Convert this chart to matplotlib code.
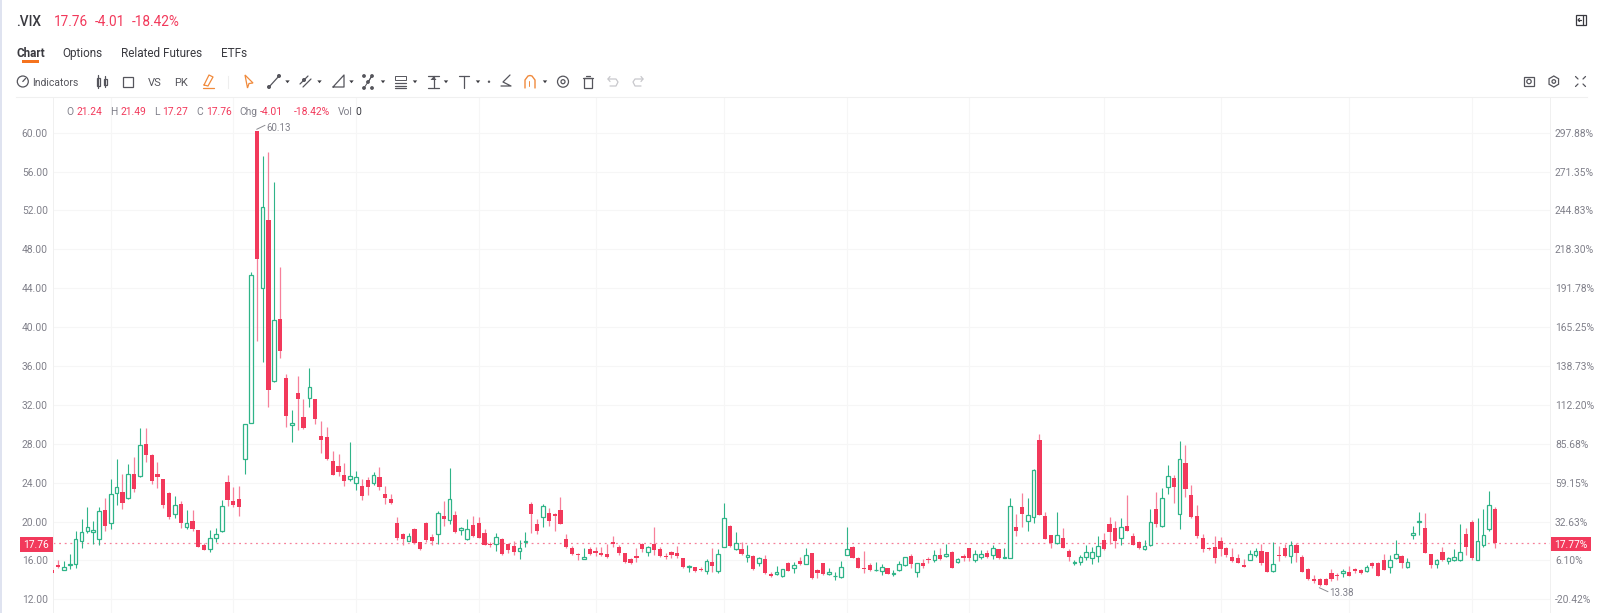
import matplotlib
matplotlib.use('Agg')
import matplotlib.pyplot as plt
from matplotlib.patches import Rectangle, Circle, Polygon
import numpy as np

plt.rcParams['font.family'] = ['Roboto', 'DejaVu Sans']

# values, one row of 10 candles per line
opens = [
    15.02, 15.57, 15.02, 15.53, 15.60, 18.03, 19.06, 18.90, 18.17, 21.22,
    19.82, 22.90, 23.00, 22.46, 24.86, 24.68, 27.94, 26.88, 24.92, 24.34,
    22.90, 20.78, 21.84, 19.47, 20.02, 19.13, 17.55, 17.20, 18.34, 19.03,
    24.10, 22.08, 22.28, 26.40, 30.10, 60.13, 44.04, 51.03, 34.42, 40.86,
    34.73, 29.96, 33.25, 30.79, 32.74, 32.64, 28.76, 28.70, 26.23, 25.75,
    24.75, 24.34, 23.93, 23.66, 24.24, 23.93, 24.55, 22.83, 22.35, 19.82,
    18.68, 18.03, 19.20, 17.90, 19.85, 18.45, 18.75, 20.60, 20.12, 20.64,
    19.16, 18.20, 19.60, 19.82, 18.82, 17.72, 17.66, 18.17, 17.72, 17.49,
    17.00, 17.86, 21.77, 19.78, 20.50, 20.90, 20.78, 21.15, 18.17, 17.30,
    16.66, 16.18, 17.18, 16.97, 16.77, 16.63, 17.86, 17.38, 16.73, 16.18,
    16.42, 17.72, 16.87, 17.66, 17.14, 16.42, 16.87, 16.73, 16.22, 15.30,
    15.29, 15.15, 14.95, 15.84, 14.95, 17.35, 19.54, 17.14, 17.20, 16.35,
    16.46, 15.77, 16.11, 14.64, 14.60, 14.37, 15.70, 15.20,
    15.94, 15.63, 16.80, 15.02, 15.70, 14.64, 14.37, 14.26, 16.60, 17.38,
    16.22, 15.26, 15.57, 14.98, 14.95, 15.19, 14.60, 15.05, 15.57, 16.42,
    14.85, 15.74, 16.18, 16.00, 16.56, 16.46, 16.90, 15.80, 16.49, 17.25,
    16.08, 16.32, 16.73, 16.53, 17.18, 16.29, 16.29, 19.44, 21.46, 20.02,
    20.50, 28.39, 20.54, 18.62, 17.79, 18.34, 17.00, 15.70, 15.87, 16.32,
    16.22, 16.42, 18.07, 19.71, 19.37, 18.34, 19.50, 18.55, 17.90, 17.18,
    17.55, 21.32, 19.54, 23.52, 24.48, 20.74, 25.99, 22.70, 20.54,
    18.27, 17.28, 17.42, 18.03, 17.28, 16.39, 16.22, 15.53, 16.08, 16.56,
    16.94, 16.83, 14.91, 16.56, 17.28, 16.42, 17.62, 16.35, 15.15, 14.06,
    14.06, 14.09, 14.67, 14.47, 14.71, 14.81, 15.12, 14.98, 14.91, 15.70,
    15.74, 16.05, 15.29, 16.29, 16.49, 15.36, 18.62, 19.95, 19.30, 16.66,
    15.63, 16.90, 15.90, 16.01, 16.01, 18.68, 19.95, 16.08, 17.62, 19.20,
    21.24,
]
closes = [
    14.74, 15.29, 15.29, 15.67, 18.17, 18.96, 19.40, 19.10, 21.12, 19.58,
    22.80, 23.52, 21.94, 24.90, 23.35, 27.87, 26.88, 24.20, 24.60, 21.70,
    20.50, 21.67, 19.82, 19.82, 19.20, 17.42, 17.07, 18.30, 18.70, 21.63,
    22.20, 21.67, 21.46, 30.00, 45.34, 46.99, 52.33, 33.56, 40.75, 37.57,
    30.89, 30.14, 32.60, 29.60, 33.80, 30.55, 28.42, 26.40, 24.82, 25.13,
    24.14, 24.68, 24.58, 22.63, 23.60, 24.75, 23.52, 22.46, 21.87, 18.34,
    18.17, 18.55, 17.76, 17.18, 18.10, 18.03, 20.88, 20.23, 22.28, 18.90,
    19.30, 19.20, 18.50, 18.30, 17.62, 17.55, 18.45, 16.66, 17.07, 16.90,
    17.25, 18.00, 20.78, 19.06, 21.60, 20.10, 20.57, 19.78, 17.42, 16.66,
    16.52, 16.32, 16.63, 16.80, 16.60, 16.32, 17.69, 16.73, 15.84, 15.70,
    16.28, 17.14, 17.35, 17.10, 16.46, 16.32, 16.60, 16.46, 15.33, 15.40,
    14.88, 15.02, 15.94, 15.43, 16.70, 20.36, 17.49, 17.83, 16.66, 16.52,
    15.08, 16.25, 14.67, 14.40, 14.80, 15.08, 14.95, 15.57,
    15.60, 16.60, 14.16, 14.74, 14.60, 14.80, 14.43, 15.33, 17.14, 16.29,
    15.26, 15.15, 15.02, 15.05, 15.33, 14.64, 14.74, 15.67, 16.32, 15.67,
    15.70, 15.39, 16.08, 16.60, 16.15, 16.70, 15.26, 16.11, 16.29, 16.29,
    16.63, 16.66, 16.32, 17.25, 16.22, 16.39, 21.63, 19.00, 20.78, 20.64,
    25.30, 20.71, 18.20, 17.76, 18.58, 17.28, 16.35, 15.80, 16.39, 16.90,
    16.90, 17.45, 17.14, 18.92, 18.00, 19.47, 19.06, 17.59, 17.25, 17.49,
    19.99, 19.71, 22.39, 24.68, 23.59, 26.40, 23.38, 20.47, 18.51,
    17.14, 17.14, 16.29, 17.21, 16.53, 15.98, 15.74, 15.36, 16.63, 16.94,
    15.70, 14.81, 15.67, 16.42, 16.46, 17.59, 16.80, 14.85, 14.06, 13.92,
    13.44, 13.51, 14.09, 14.37, 14.95, 14.43, 14.88, 14.67, 15.33, 15.43,
    14.43, 15.05, 16.01, 16.70, 15.77, 15.80, 18.79, 20.09, 16.80, 15.53,
    16.05, 16.05, 16.25, 16.32, 16.83, 17.42, 16.25, 17.97, 18.62, 21.74,
    17.76,
]
highs = [
    15.36, 16.05, 15.98, 16.66, 19.00, 20.26, 21.50, 20.06, 21.50, 22.40,
    24.34, 26.40, 24.90, 25.90, 26.60, 29.60, 29.60, 26.90, 26.16, 24.34,
    23.00, 22.63, 22.15, 21.20, 21.15, 19.13, 17.83, 19.13, 19.34, 22.20,
    24.82, 23.55, 23.70, 30.00, 45.65, 60.13, 57.60, 58.00, 54.97, 46.20,
    35.17, 31.47, 35.00, 32.57, 35.76, 32.64, 30.34, 29.70, 27.26, 26.95,
    26.00, 28.18, 25.20, 24.34, 24.60, 25.13, 25.64, 23.66, 22.83, 20.43,
    18.86, 18.80, 19.37, 17.90, 19.92, 18.72, 21.08, 22.10, 25.54, 21.05,
    19.40, 20.23, 20.57, 20.47, 19.23, 17.93, 18.80, 18.27, 17.83, 18.00,
    18.10, 18.90, 22.00, 20.26, 21.80, 21.36, 20.90, 22.50, 18.75, 17.49,
    16.80, 17.30, 17.35, 17.42, 17.35, 17.66, 18.50, 17.55, 16.77, 16.25,
    17.25, 17.83, 17.50, 19.47, 17.35, 16.73, 16.97, 17.49, 16.30, 15.53,
    15.33, 15.36, 16.10, 17.25, 17.14, 21.87, 19.60, 18.92, 17.86, 17.62,
    16.56, 16.40, 16.56, 14.78, 15.40, 15.15, 15.87, 15.84,
    16.35, 17.25, 16.80, 15.10, 15.74, 15.19, 14.78, 15.98, 19.40, 17.52,
    16.32, 16.94, 15.70, 15.84, 15.67, 15.26, 14.98, 15.90, 16.39, 16.66,
    15.77, 16.11, 16.39, 17.04, 17.25, 17.73, 17.00, 16.29, 16.70, 17.31,
    17.04, 17.04, 17.07, 17.55, 17.18, 17.31, 22.46, 20.78, 22.90, 22.46,
    25.40, 29.00, 21.00, 18.62, 21.02, 19.37, 17.14, 16.05, 16.56, 17.59,
    17.42, 18.51, 18.82, 20.47, 20.06, 20.33, 22.70, 18.86, 18.00, 18.07,
    21.32, 23.04, 23.42, 25.85, 24.75, 28.28, 27.87, 23.72, 21.74,
    18.72, 17.38, 18.51, 18.38, 17.38, 17.25, 16.63, 16.15, 17.07, 17.25,
    17.69, 16.83, 17.86, 17.49, 17.69, 18.00, 17.76, 16.56, 15.22, 14.50,
    14.16, 14.16, 15.09, 14.67, 15.15, 15.43, 15.22, 15.09, 15.50, 15.87,
    15.80, 16.66, 16.53, 18.10, 16.56, 16.29, 19.58, 21.02, 20.84, 16.66,
    16.18, 17.38, 16.39, 17.18, 19.75, 19.30, 20.16, 20.40, 21.26, 23.14,
    21.49,
]
lows = [
    14.70, 15.26, 15.00, 15.09, 15.22, 17.25, 18.80, 17.70, 17.60, 19.00,
    19.20, 21.67, 21.30, 22.30, 23.04, 24.60, 26.10, 23.83, 23.40, 21.43,
    20.23, 20.33, 19.37, 19.23, 19.06, 17.38, 17.04, 16.90, 17.93, 18.90,
    21.63, 21.53, 20.57, 24.90, 30.10, 38.53, 36.44, 31.80, 34.40, 36.80,
    29.70, 28.20, 29.40, 29.55, 31.75, 30.03, 27.05, 26.33, 24.79, 24.68,
    23.66, 24.20, 23.24, 22.20, 22.73, 23.76, 23.24, 21.80, 21.80, 18.10,
    17.59, 18.00, 17.70, 17.10, 17.93, 17.59, 17.72, 19.54, 19.75, 18.86,
    18.60, 18.10, 18.45, 18.27, 17.59, 17.35, 17.00, 16.60, 16.73, 16.60,
    16.18, 17.35, 18.80, 18.72, 19.47, 19.54, 19.06, 19.75, 17.30, 16.56,
    16.05, 16.11, 16.52, 16.42, 16.50, 16.25, 17.42, 16.52, 15.74, 15.63,
    15.87, 16.87, 16.50, 16.60, 16.40, 16.18, 16.20, 16.30, 15.22, 14.85,
    14.85, 14.90, 14.60, 14.85, 14.67, 17.35, 17.40, 17.04, 16.56, 15.87,
    15.05, 15.46, 14.64, 14.26, 14.54, 14.30, 14.90, 14.74,
    15.56, 15.60, 14.10, 14.16, 14.54, 14.54, 14.02, 14.23, 16.56, 16.25,
    15.19, 14.67, 14.95, 14.95, 14.54, 14.60, 14.37, 14.95, 15.40, 15.26,
    14.26, 15.22, 15.77, 15.87, 16.08, 16.35, 15.22, 15.70, 15.94, 15.94,
    15.87, 16.18, 16.29, 16.15, 16.18, 16.22, 16.22, 18.51, 19.40, 19.06,
    19.82, 20.67, 18.17, 17.31, 17.72, 17.25, 15.98, 15.53, 15.57, 16.05,
    15.63, 15.87, 17.07, 17.69, 17.25, 17.59, 19.03, 17.55, 17.21, 17.07,
    17.49, 19.47, 19.47, 22.83, 21.87, 19.23, 22.49, 20.37, 18.34,
    16.90, 17.07, 15.77, 16.49, 16.39, 15.87, 15.70, 15.29, 16.05, 16.39,
    15.53, 14.78, 14.85, 15.94, 16.39, 15.77, 15.87, 14.81, 13.99, 13.65,
    13.38, 13.44, 13.92, 13.99, 14.33, 14.40, 14.67, 14.57, 14.81, 15.19,
    14.37, 15.02, 14.67, 16.18, 15.22, 15.26, 18.20, 18.62, 16.73, 15.19,
    15.26, 15.98, 15.67, 15.94, 15.94, 16.56, 16.05, 16.01, 17.42, 19.06,
    17.27,
]
assert len(opens) == len(closes) == len(highs) == len(lows)

price_ticks = [12, 16, 20, 24, 28, 32, 36, 40, 44, 48, 52, 56, 60]
percent_labels = ['-20.42%', '6.10%', '32.63%', '59.15%', '85.68%', '112.20%', '138.73%',
                  '165.25%', '191.78%', '218.30%', '244.83%', '271.35%', '297.88%']
# candles the vertical grid lines go through (month starts)
month_starts = [10, 31, 52, 73, 93, 115, 136, 157, 180, 200, 222, 243]
last_price = 17.76

RED = '#f2395b'
RED_WICK = '#f7809a'
GREEN = '#2fb488'
GRID = '#f6f6f6'
LABEL = '#80808a'
DARK = '#3a3a40'

W, H = 1600, 613
fig = plt.figure(figsize=(W / 100, H / 100), dpi=100, facecolor='white')

# chart area, pixel positions
left, right, top, bottom = 52.7, 1550.0, 97.0, 613.0
ax = fig.add_axes([left / W, 1 - bottom / H, (right - left) / W, (bottom - top) / H])
x0, dx = 52.32, 5.841
ax.set_xlim((left - x0) / dx, (right - x0) / dx)
ax.set_ylim(12 + (599.3 - bottom) / 9.72, 12 + (599.3 - top) / 9.72)
ax.set_xticks(month_starts)
ax.set_xticklabels([])
ax.set_yticks(price_ticks)
ax.set_yticklabels(['%.2f' % p for p in price_ticks], fontsize=7.4, color=LABEL)
ax.tick_params(length=0, pad=3.4)
ax.grid(True, color=GRID, lw=0.8)
ax.set_axisbelow(True)
for s in ['top', 'bottom']:
    ax.spines[s].set_visible(False)
for s in ['left', 'right']:
    ax.spines[s].set_color('#f0f0f0')
    ax.spines[s].set_linewidth(0.7)

# percent scale on the right, all labels start at the same x
for p, s in zip(price_ticks, percent_labels):
    ax.text(1 + 5 / (right - left), p, s, transform=ax.get_yaxis_transform(), ha='left',
            va='center_baseline', fontsize=7.4, color=LABEL, clip_on=False)

xs = np.arange(len(opens))
o = np.array(opens)
c = np.array(closes)
up = c >= o

# wicks first, bodies on top so the hollow ones hide them
ax.vlines(xs[up], np.array(lows)[up], np.array(highs)[up], color=GREEN, lw=0.8, zorder=3)
ax.vlines(xs[~up], np.array(lows)[~up], np.array(highs)[~up], color=RED_WICK, lw=0.9, zorder=3)
ax.bar(xs[up], (c - o)[up], bottom=o[up], width=0.62, facecolor='white', edgecolor=GREEN, linewidth=0.9, zorder=4)
ax.bar(xs[~up], (o - c)[~up], bottom=c[~up], width=0.72, color=RED, linewidth=0, zorder=4)

ax.axhline(last_price, color=RED_WICK, lw=0.9, ls=(0, (1.5, 3)), zorder=2)

# everything around the chart goes on an overlay in pixel coordinates
ui = fig.add_axes([0, 0, 1, 1], facecolor='none')
ui.set_xlim(0, W)
ui.set_ylim(H, 0)
ui.axis('off')


def label(x, y, s, color=DARK, size=7.4, ha='left', weight='normal'):
    ui.text(x, y, s, color=color, fontsize=size, ha=ha, va='center_baseline', weight=weight)


def stroke(xx, yy, color=DARK, lw=0.9):
    ui.plot(xx, yy, color=color, lw=lw, solid_capstyle='round', solid_joinstyle='round')


def box(x, y, w, h, color=DARK, lw=0.9, fill='none'):
    ui.add_patch(Rectangle((x, y), w, h, fill=fill != 'none', facecolor=fill, edgecolor=color, lw=lw))


def caret(x, y=81.7):
    ui.add_patch(Polygon([(x - 2.2, y - 1.3), (x + 2.2, y - 1.3), (x, y + 1.5)], color=DARK, lw=0))


ui.add_patch(Rectangle((0, 0), 2, H, color='#dfe3f0', lw=0))

# header
label(16, 20.5, '.VIX', size=9.8, weight='medium')
label(54, 20.5, '17.76', RED, 9.8)
label(94.6, 20.5, '-4.01', RED, 9.8)
label(132, 20.5, '-18.42%', RED, 9.8)

# tabs
label(16.5, 52, 'Chart', size=8.4, weight='bold')
label(62.5, 52, 'Options', size=8.5)
label(121.3, 52, 'Related Futures', size=8.5)
label(220.5, 52, 'ETFs', size=8.5)
ui.add_patch(Rectangle((22, 59.7), 16.5, 2.8, color='#f5731e', lw=0))
ui.plot([16, 1587], [96.7, 96.7], color='#f0f0f0', lw=0.8)

# toolbar
GREY = '#55555c'
ORANGE = '#f08a3c'
ui.add_patch(Circle((22.8, 81.5), 5.5, fill=False, ec=GREY, lw=0.9))
stroke([22.8, 25.5], [81.5, 78.5], GREY)
label(32.5, 81.7, 'Indicators', GREY, 7.5)
box(96.5, 77.5, 3, 8, GREY)
stroke([98, 98], [75, 88], GREY)
box(103.5, 78.5, 3, 6, GREY)
stroke([105, 105], [76, 87], GREY)
ui.add_patch(Rectangle((123, 77), 10, 10, fill=False, ec=GREY, lw=0.9))
label(154.4, 81.7, 'VS', GREY, 8, ha='center')
label(181, 81.7, 'PK', GREY, 8, ha='center')
stroke([204, 209, 213, 208, 204], [85, 75, 77, 86, 85], ORANGE)
stroke([203, 214], [88, 88], ORANGE)
ui.plot([228, 228], [76, 88], color='#eeeeee', lw=0.8)
ui.add_patch(Polygon([(245, 75), (253, 83), (249, 83.5), (247.5, 88)], fill=False, ec=ORANGE, lw=0.9))
stroke([269, 279], [87, 76], GREY)
ui.add_patch(Circle((269, 87), 1.3, color=GREY))
ui.add_patch(Circle((279, 76), 1.3, color=GREY))
stroke([300, 308], [84, 76], GREY)
stroke([303, 311], [87, 79], GREY)
ui.add_patch(Circle((304, 80), 1.3, color=GREY))
stroke([333, 344, 344, 333], [87, 75, 87, 87], GREY)
for yy, xx in [(76, 364), (76, 372), (82, 368), (88, 364), (88, 372)]:
    ui.add_patch(Circle((xx, yy), 1.2, color=GREY))
stroke([364, 368, 372, 368], [88, 82, 76, 82], GREY, 0.7)
box(395, 76, 11, 4, GREY, 0.7)
stroke([395, 406], [83, 83], GREY)
stroke([395, 406], [85.5, 85.5], GREY)
stroke([395, 406], [88, 88], GREY)
stroke([428, 439], [76, 76], GREY)
stroke([428, 439], [88, 88], GREY)
stroke([433.5, 433.5], [76, 88], GREY)
ui.add_patch(Polygon([(430.5, 80), (436.5, 80), (433.5, 76.5)], color=GREY, lw=0))
stroke([459, 469], [76, 76], GREY)
stroke([464, 464], [76, 88], GREY)
ui.add_patch(Circle((489, 81.7), 0.5, color=GREY))
stroke([501, 511, 503, 510], [86, 86, 82, 75], GREY)
stroke([525, 525, 528, 530, 532, 535, 535], [88, 80, 76, 75.5, 76, 80, 88], ORANGE, 1.0)
stroke([529, 529], [86, 81], ORANGE, 0.7)
ui.add_patch(Circle((563, 81.7), 5.5, fill=False, ec=GREY, lw=0.9))
ui.add_patch(Circle((563, 81.7), 2, fill=False, ec=GREY, lw=0.9))
ui.add_patch(Rectangle((584, 78), 8, 10, fill=False, ec=GREY, lw=0.9))
stroke([583, 593], [77.5, 77.5], GREY)
stroke([586, 590], [75.5, 75.5], GREY)
stroke([608, 616, 618, 616, 610], [79, 79, 82, 86, 86], '#c8c8cc')
stroke([610, 608, 610], [76.5, 79, 81.5], '#c8c8cc')
stroke([643, 635, 633, 635, 641], [79, 79, 82, 86, 86], '#c8c8cc')
stroke([641, 643, 641], [76.5, 79, 81.5], '#c8c8cc')
for cx in [287.5, 319.5, 351.5, 383, 415, 446, 478, 545]:
    caret(cx)

# right side icons
box(1576, 15, 10, 10, DARK)
stroke([1583, 1583], [15, 25], DARK)
stroke([1578, 1581], [20, 20], DARK)
stroke([1579.5, 1578, 1579.5], [18.5, 20, 21.5], DARK)
ui.add_patch(Rectangle((1524, 77), 10, 9, fill=False, ec=GREY, lw=0.9))
ui.add_patch(Circle((1529, 81.5), 2.2, fill=False, ec=GREY, lw=0.9))
hexa = [(1553.8 + 5.5 * np.sin(a), 81.5 + 5.5 * np.cos(a)) for a in np.arange(6) * np.pi / 3]
ui.add_patch(Polygon(hexa, fill=False, ec=GREY, lw=0.9))
ui.add_patch(Circle((1553.8, 81.5), 1.8, fill=False, ec=GREY, lw=0.9))
for sx, sy in [(-1, -1), (1, -1), (-1, 1), (1, 1)]:
    stroke([1580.5 + sx * 2.5, 1580.5 + sx * 5], [81.5 + sy * 2.5, 81.5 + sy * 5], GREY)

# O H L C line
label(66, 110.7, 'O', LABEL)
label(76.3, 110.7, '21.24', RED)
label(110, 110.7, 'H', LABEL)
label(120.7, 110.7, '21.49', RED)
label(154, 110.7, 'L', LABEL)
label(162.6, 110.7, '17.27', RED)
label(196, 110.7, 'C', LABEL)
label(206, 110.7, '17.76', RED)
label(239.4, 110.7, 'Chg', LABEL)
label(260, 110.7, '-4.01', RED)
label(293.8, 110.7, '-18.42%', RED)
label(338, 110.7, 'Vol', LABEL)
label(355.6, 110.7, '0', DARK)

# high / low callouts
stroke([256.7, 265], [129.3, 125.3], '#8a8a90', 0.7)
label(266, 126.7, '60.13', LABEL, 7.0)
stroke([1319.3, 1328], [587.7, 591.7], '#8a8a90', 0.7)
label(1329.5, 591.7, '13.38', LABEL, 7.0)

# last price tags on both axes
ui.add_patch(Rectangle((19.7, 536.5), 33, 15, color=RED, lw=0))
label(36.2, 544, '17.76', 'white', ha='center')
ui.add_patch(Rectangle((1550.7, 536.7), 40, 14, color=RED, lw=0))
label(1570.7, 544, '17.77%', 'white', ha='center')

fig.savefig('out.png', dpi=100, facecolor='white')
